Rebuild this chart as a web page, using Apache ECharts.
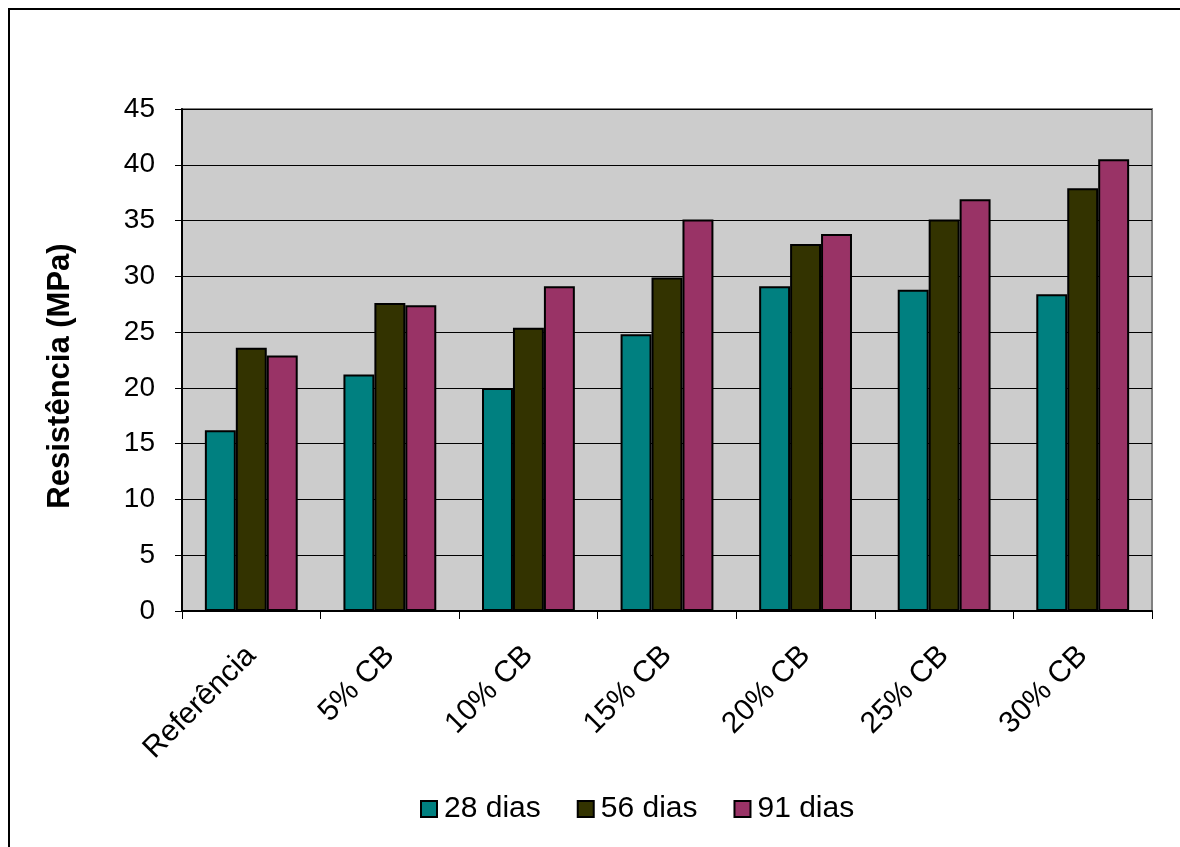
<!DOCTYPE html>
<html>
<head>
<meta charset="utf-8">
<title>Resistência à compressão</title>
<script src="https://cdn.jsdelivr.net/npm/echarts@6/dist/echarts.min.js"></script>
<style>
  html, body { margin: 0; padding: 0; background: #ffffff; }
  #chart { width: 1180px; height: 847px; }
</style>
</head>
<body>
<div id="chart"></div>
<script>
// Mixtures (replacement level of CB) and compressive strength per curing age
const categories = ['Referência', '5% CB', '10% CB', '15% CB', '20% CB', '25% CB', '30% CB'];
const seriesNames = ['28 dias', '56 dias', '91 dias'];
const dias28 = [16.2, 21.2, 20.0, 24.8, 29.1, 28.8, 28.4];
const dias56 = [23.6, 27.6, 25.4, 29.9, 32.9, 35.1, 37.9];
const dias91 = [22.9, 27.4, 29.1, 35.1, 33.8, 36.9, 40.5];
const seriesColors = ['#008080', '#333300', '#993366'];

const FONT = '"Liberation Sans", Arial, sans-serif';
const chart = echarts.init(document.getElementById('chart'), null, { renderer: 'canvas' });

const makeBar = (name, data, color) => ({
  name: name,
  type: 'bar',
  data: data,
  barGap: '0%',
  barCategoryGap: '33%',
  itemStyle: { color: color, borderColor: '#000000', borderWidth: 2 },
  emphasis: { disabled: true }
});

chart.setOption({
  animation: false,
  backgroundColor: '#ffffff',
  textStyle: { fontFamily: FONT, color: '#000000' },
  graphic: [{
    // outer frame of the chart
    type: 'rect',
    shape: { x: 9, y: 9, width: 1220, height: 900 },
    style: { fill: 'none', stroke: '#000000', lineWidth: 2 },
    silent: true
  }],
  grid: {
    left: 182, right: 28, top: 109, bottom: 236,
    show: true,
    backgroundColor: '#cccccc',
    borderColor: '#808080',
    borderWidth: 2
  },
  legend: {
    data: seriesNames,
    left: 415, top: 789,
    itemWidth: 16, itemHeight: 16, itemGap: 36,
    icon: 'rect',
    itemStyle: { borderColor: '#000000', borderWidth: 2 },
    textStyle: { fontFamily: FONT, fontSize: 30, color: '#000000', padding: [0, 0, 0, 2] }
  },
  xAxis: {
    type: 'category',
    data: categories,
    axisLine: { lineStyle: { color: '#000000', width: 2 } },
    axisTick: { show: true, length: 8, lineStyle: { color: '#000000', width: 1 } },
    axisLabel: { rotate: 45, margin: 40, fontFamily: FONT, fontSize: 30, color: '#000000' },
    splitLine: { show: false }
  },
  yAxis: {
    type: 'value',
    min: 0, max: 45, interval: 5,
    name: 'Resistência (MPa)',
    nameLocation: 'middle',
    nameGap: 106,
    nameTextStyle: {
      fontFamily: FONT, fontSize: 31, fontWeight: 'bold', color: '#000000',
      padding: [0, 32, 0, 0]
    },
    axisLine: { show: true, lineStyle: { color: '#000000', width: 2 } },
    axisTick: { show: true, length: 7, lineStyle: { color: '#000000', width: 1 } },
    axisLabel: { margin: 27, fontFamily: FONT, fontSize: 28, color: '#000000' },
    splitLine: { show: true, lineStyle: { color: '#000000', width: 1 } }
  },
  series: [
    makeBar(seriesNames[0], dias28, seriesColors[0]),
    makeBar(seriesNames[1], dias56, seriesColors[1]),
    makeBar(seriesNames[2], dias91, seriesColors[2])
  ]
});
</script>
</body>
</html>
